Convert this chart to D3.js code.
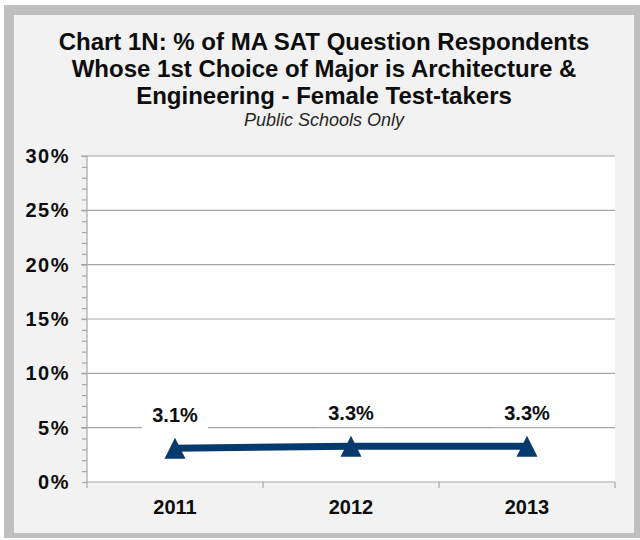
<!DOCTYPE html>
<html>
<head>
<meta charset="utf-8">
<script src="https://cdn.jsdelivr.net/npm/d3@7"></script>
<style>
  body { margin: 0; background: #fff; }
  text { font-family: "Liberation Sans", Arial, sans-serif; }
</style>
</head>
<body>
<div id="vis"></div>
<script>
var years = ['2011', '2012', '2013'];
var values = [0.031, 0.033, 0.033];
var valueLabels = ['3.1%', '3.3%', '3.3%'];
var yTicks = [0, 0.05, 0.10, 0.15, 0.20, 0.25, 0.30];
var titleLines = [
  'Chart 1N: % of MA SAT Question Respondents',
  'Whose 1st Choice of Major is Architecture &',
  'Engineering - Female Test-takers'
];
var subtitle = 'Public Schools Only';

var width = 640;
var height = 540;
var margin = { left: 87, right: 25, top: 156, bottom: 58 };
var lineColor = '#063a6d';
var gridColor = '#a6a6a6';

var svg = d3.select('#vis')
  .append('svg')
  .attr('width', width)
  .attr('height', height);

// frame
svg.append('rect')
  .attr('x', 4).attr('y', 5)
  .attr('width', 636).attr('height', 533)
  .attr('fill', '#bfbfbf');
svg.append('rect')
  .attr('x', 14).attr('y', 15)
  .attr('width', 620).attr('height', 518)
  .attr('fill', '#f2f2f2');

var x = d3.scaleBand()
  .domain(years)
  .range([margin.left, width - margin.right]);

var y = d3.scaleLinear()
  .domain([0, 0.30])
  .range([height - margin.bottom, margin.top]);

svg.append('rect')
  .attr('x', margin.left)
  .attr('y', margin.top)
  .attr('width', x.range()[1] - margin.left)
  .attr('height', y(0) - margin.top)
  .attr('fill', '#fff');

// title
svg.selectAll('.title')
  .data(titleLines)
  .enter()
  .append('text')
  .attr('class', 'title')
  .attr('x', 324)
  .attr('y', function (d, i) { return 50 + i * 27; })
  .attr('text-anchor', 'middle')
  .attr('font-size', 24)
  .attr('font-weight', 'bold')
  .attr('fill', '#0d0d0d')
  .text(function (d) { return d; });

svg.append('text')
  .attr('x', 324)
  .attr('y', 126)
  .attr('text-anchor', 'middle')
  .attr('font-size', 18)
  .attr('font-style', 'italic')
  .attr('fill', '#262626')
  .text(subtitle);

// gridlines
svg.append('g')
  .selectAll('line')
  .data(yTicks.filter(function (d) { return d > 0; }))
  .enter()
  .append('line')
  .attr('x1', margin.left - 6)
  .attr('x2', x.range()[1])
  .attr('y1', function (d) { return y(d); })
  .attr('y2', function (d) { return y(d); })
  .attr('stroke', gridColor)
  .attr('stroke-width', 1.2);

// y axis with minor ticks
var yAxis = d3.axisLeft(y)
  .tickValues(d3.range(0, 31).map(function (d) { return d / 100; }))
  .tickSize(5)
  .tickFormat('');
var yg = svg.append('g')
  .attr('transform', 'translate(' + margin.left + ',0)')
  .call(yAxis);
yg.select('.domain').remove();
yg.selectAll('line').attr('stroke', gridColor).attr('stroke-width', 1.2);
yg.append('line')
  .attr('x1', 0).attr('x2', 0)
  .attr('y1', margin.top).attr('y2', y(0) + 6)
  .attr('stroke', gridColor).attr('stroke-width', 1.2);

svg.append('g')
  .selectAll('text')
  .data(yTicks)
  .enter()
  .append('text')
  .attr('x', 70)
  .attr('y', function (d) { return y(d) + 7; })
  .attr('text-anchor', 'end')
  .attr('font-size', 20)
  .attr('font-weight', 'bold')
  .attr('letter-spacing', 1.5)
  .attr('fill', '#0d0d0d')
  .text(function (d) { return d3.format('.0%')(d); });

// x axis
var xg = svg.append('g')
  .attr('transform', 'translate(0,' + y(0) + ')');
xg.append('line')
  .attr('x1', margin.left).attr('x2', x.range()[1])
  .attr('stroke', gridColor).attr('stroke-width', 1.2);
xg.selectAll('.tick')
  .data(years.slice(1).concat(['end']))
  .enter()
  .append('line')
  .attr('x1', function (d, i) { return x.range()[0] + (i + 1) * x.step(); })
  .attr('x2', function (d, i) { return x.range()[0] + (i + 1) * x.step(); })
  .attr('y1', 0).attr('y2', 6)
  .attr('stroke', gridColor).attr('stroke-width', 1.2);
xg.selectAll('text')
  .data(years)
  .enter()
  .append('text')
  .attr('x', function (d) { return x(d) + x.bandwidth() / 2; })
  .attr('y', 32)
  .attr('text-anchor', 'middle')
  .attr('font-size', 20)
  .attr('font-weight', 'bold')
  .attr('fill', '#0d0d0d')
  .text(function (d) { return d; });

// line + markers
var points = years.map(function (d, i) {
  return { year: d, value: values[i], label: valueLabels[i] };
});
var cx = function (d) { return x(d.year) + x.bandwidth() / 2; };

svg.append('path')
  .datum(points)
  .attr('fill', 'none')
  .attr('stroke', lineColor)
  .attr('stroke-width', 7)
  .attr('d', d3.line().x(cx).y(function (d) { return y(d.value); }));

var triangle = {
  draw: function (context, size) {
    var h = Math.sqrt(size) / 2;
    context.moveTo(0, -h);
    context.lineTo(h, h);
    context.lineTo(-h, h);
    context.closePath();
  }
};

svg.selectAll('.marker')
  .data(points)
  .enter()
  .append('path')
  .attr('class', 'marker')
  .attr('transform', function (d) { return 'translate(' + cx(d) + ',' + y(d.value) + ')'; })
  .attr('d', d3.symbol().type(triangle).size(441))
  .attr('fill', lineColor);

// data labels
var labels = svg.selectAll('.dlabel')
  .data(points)
  .enter()
  .append('g')
  .attr('class', 'dlabel')
  .attr('transform', function (d) { return 'translate(' + cx(d) + ',' + (y(d.value) - 26) + ')'; });
labels.append('rect')
  .attr('x', -33).attr('y', -20)
  .attr('width', 66).attr('height', 27)
  .attr('fill', '#fff');
labels.append('text')
  .attr('text-anchor', 'middle')
  .attr('font-size', 20)
  .attr('font-weight', 'bold')
  .attr('fill', '#0d0d0d')
  .text(function (d) { return d.label; });
</script>
</body>
</html>
